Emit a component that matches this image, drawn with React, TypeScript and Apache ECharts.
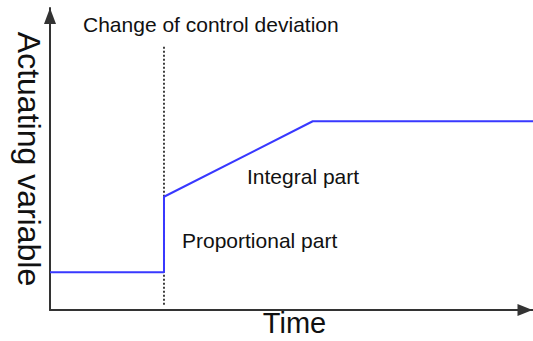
import React, { useEffect, useRef } from "react";
import * as echarts from "echarts";

// ---- data ----
const timePoints: number[] = [0, 23.6, 23.6, 54.4, 100];
const actuatingValues: number[] = [12.5, 12.5, 37.5, 62.5, 62.5];
const deviationTime: number[] = [23.6, 23.6];
const deviationRange: number[] = [1.7, 87.7];
const xAxisTitle = "Time";
const yAxisTitle = "Actuating variable";
const annotationTexts: string[] = [
  "Change of control deviation",
  "Integral part",
  "Proportional part",
];

const FONT = "'Liberation Sans', Arial, sans-serif";

export default function App() {
  const ref = useRef<HTMLDivElement>(null);

  useEffect(() => {
    if (!ref.current) return;
    const chart = echarts.init(ref.current, null, { renderer: "svg" });

    const lineData = timePoints.map((t, i) => [t, actuatingValues[i]]);
    const devData = deviationTime.map((t, i) => [t, deviationRange[i]]);

    const annotationPos = [
      { x: 83, y: 24.5 },
      { x: 247, y: 176 },
      { x: 182, y: 240 },
    ];

    chart.setOption({
      animation: false,
      backgroundColor: "#ffffff",
      grid: {
        left: 50,
        right: 0,
        top: 8,
        bottom: 31,
        containLabel: false,
        outerBoundsMode: "none",
      },
      xAxis: {
        type: "value",
        min: 0,
        max: 100,
        name: xAxisTitle,
        nameLocation: "middle",
        nameGap: 13,
        nameMoveOverlap: false,
        nameTextStyle: {
          fontFamily: FONT,
          fontSize: 29,
          color: "#111",
          padding: [0, 0, 0, 6],
          align: "center",
          verticalAlign: "middle",
        },
        axisLine: {
          show: true,
          onZero: false,
          symbol: ["none", "triangle"],
          symbolSize: [12, 15],
          symbolOffset: [0, -8],
          lineStyle: { color: "#333", width: 2 },
        },
        axisTick: { show: false },
        axisLabel: { show: false },
        splitLine: { show: false },
      },
      yAxis: {
        type: "value",
        min: 0,
        max: 100,
        name: yAxisTitle,
        nameLocation: "middle",
        nameRotate: -90,
        nameGap: 21,
        nameMoveOverlap: false,
        nameTextStyle: {
          fontFamily: FONT,
          fontSize: 32,
          color: "#111",
          align: "center",
          verticalAlign: "middle",
        },
        axisLine: {
          show: true,
          onZero: false,
          symbol: ["none", "triangle"],
          symbolSize: [12, 16],
          symbolOffset: [0, -8],
          lineStyle: { color: "#333", width: 2 },
        },
        axisTick: { show: false },
        axisLabel: { show: false },
        splitLine: { show: false },
      },
      series: [
        {
          type: "line",
          data: devData,
          symbol: "none",
          silent: true,
          lineStyle: { color: "#000", width: 1.5, type: [2, 2] },
        },
        {
          type: "line",
          data: lineData,
          symbol: "none",
          silent: true,
          lineStyle: { color: "#3838ff", width: 2 },
        },
      ],
      graphic: annotationTexts.map((t, i) => ({
        type: "text",
        x: annotationPos[i].x,
        y: annotationPos[i].y,
        silent: true,
        style: {
          text: t,
          fill: "#111",
          font: `21px ${FONT}`,
          textAlign: "left",
          textVerticalAlign: "middle",
        },
      })),
    });

    return () => chart.dispose();
  }, []);

  return (
    <div
      ref={ref}
      style={{ position: "fixed", left: 0, top: 0, width: 533, height: 341 }}
    />
  );
}
